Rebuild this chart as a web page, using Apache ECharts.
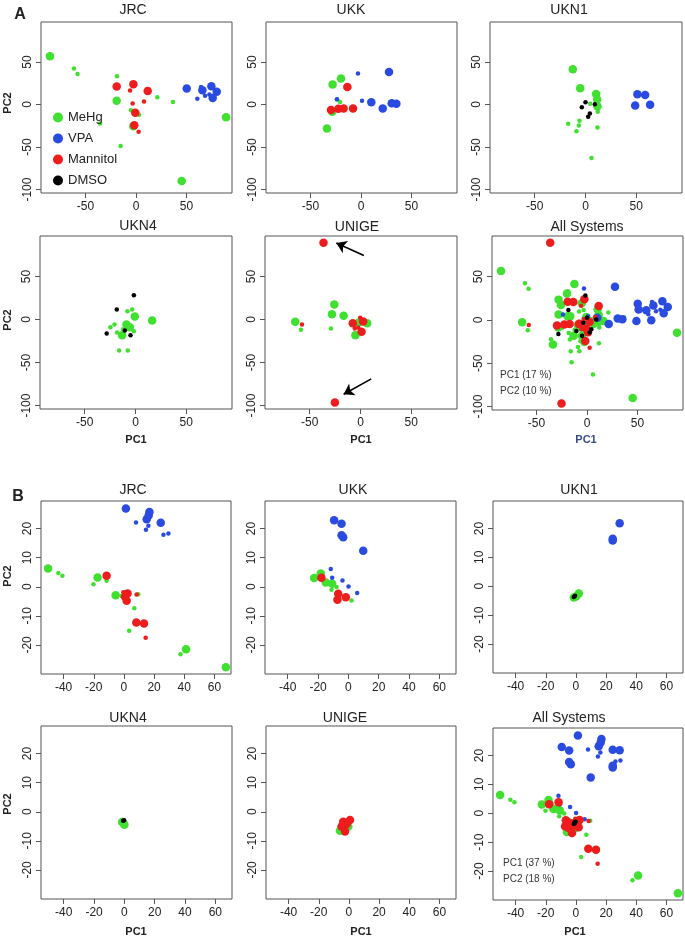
<!DOCTYPE html>
<html><head><meta charset="utf-8">
<script src="https://cdn.jsdelivr.net/npm/echarts@6/dist/echarts.min.js"></script>
<style>html,body{margin:0;padding:0;background:#fff}#c{width:685px;height:938px}</style>
</head><body><div id="c"></div>
<script>
// ---------- tick labels ----------
const ticksAx = [-50, 0, 50];
const ticksAy = [-100, -50, 0, 50];
const ticksBx = [-40, -20, 0, 20, 40, 60];
const ticksBy = [-20, -10, 0, 10, 20];
const panelNames = ['JRC', 'UKK', 'UKN1', 'UKN4', 'UNIGE', 'All Systems'];
const groups = ['MeHg', 'VPA', 'Mannitol', 'DMSO'];
const varA = ['PC1 (17 %)', 'PC2 (10 %)'];
const varB = ['PC1 (37 %)', 'PC2 (18 %)'];
// points: [PC1, PC2, highDose(1)/lowDose(0)]
// ---------- Panel A ----------
const aJRC_MeHg = [[-85.1,56.7,1],[-19.1,4.3,1],[-2.6,-25.4,1],[45.2,-90,1],[89.1,-14.9,1],[-61.4,42.3,0],[-57.8,36,0],[-18.8,33.3,0],[21.1,8.6,0],[36.6,3.1,0],[-35.6,-22.3,0],[-15.2,-48.9,0],[-5,-6.7,0],[3,-12.1,0]];
const aJRC_VPA = [[50.2,18.8,1],[65.7,16.8,1],[74.6,21.5,1],[79.9,14.9,1],[75.9,7.8,1],[60.7,6.7,0],[64.4,20.7,0],[72.6,11.7,0],[68.3,10.2,0]];
const aJRC_Mannitol = [[-19.1,21.1,1],[-2.6,23.9,1],[11.6,16,1],[-0.7,-9.8,1],[-1.7,-24.3,1],[-5.9,16.4,0],[-3.3,1.2,0],[7.9,3.5,0],[2.6,-32.1,0]];
const aJRC_DMSO = [];
const aUKK_MeHg = [[-28.1,23.5,1],[-19.8,30.5,1],[-33.7,-28.2,1],[-28.4,-8.6,1],[-23.8,5.9,0],[-20.8,3.1,0],[-19.8,-5.9,0],[-11.9,20,0]];
const aUKK_VPA = [[27.7,38.3,1],[10.2,2.7,1],[21.5,-4.7,1],[30.4,1.6,1],[35,0.8,1],[-3,36.4,0],[1,4.3,0],[-23.8,6.3,0]];
const aUKK_Mannitol = [[-29.7,-6.3,1],[-22.4,-5.1,1],[-17.2,-4.7,1],[-7.9,-4.7,1],[-13.5,20.7,1]];
const aUKK_DMSO = [];
const aUKN1_MeHg = [[-12.5,41.5,1],[-5.2,19.2,1],[10.5,12.5,1],[11.5,5.9,1],[11.8,-2,1],[-17,-22.7,0],[-5.9,-19.2,0],[-6.6,-24.6,0],[-8.9,-31.3,0],[11.8,-27,0],[5.9,-63,0],[4.6,0.8,0],[12.1,-8.6,0]];
const aUKN1_VPA = [[51.1,12.1,1],[58.7,11.3,1],[48.9,-1.2,1],[63.6,-0.4,1]];
const aUKN1_Mannitol = [];
const aUKN1_DMSO = [[-3.6,-3.1,0],[0,2.7,0],[9.2,0.4,0],[4.3,-10.6,0],[2.6,-14.5,0]];
const aUKN4_MeHg = [[-0.7,3.5,1],[16.4,-1.2,1],[-8.9,-5.8,1],[-5.6,-8.9,1],[-13.2,-18.2,1],[-7.9,9.7,0],[-3.3,11.6,0],[-24.7,-8.9,0],[-20.7,-5.8,0],[-18.1,-15.1,0],[-1.6,-13.6,0],[-16.1,-36,0],[-7.6,-36,0],[-12.2,-11.2,0]];
const aUKN4_VPA = [];
const aUKN4_Mannitol = [];
const aUKN4_DMSO = [[-1.6,28.3,0],[-18.4,11.6,0],[-28.3,-16.3,0],[-10.5,-12.8,0],[-4.9,-18.2,0]];
const aUNIGE_MeHg = [[-64.2,-2.7,1],[-25.8,17.4,1],[-28.1,6.2,1],[-16.6,4.3,1],[6.6,-4.3,1],[-5,-18.2,1],[-1.7,-3.5,1],[-58.6,-12,0],[-29.1,-10.5,0]];
const aUNIGE_VPA = [];
const aUNIGE_Mannitol = [[-36.4,89.1,1],[-25.2,-96.5,1],[-7.6,-4.3,1],[2.6,-2.3,1],[1,-14.3,1],[-57.6,-5.8,0],[-0.3,1.9,0],[-5.6,-10.5,0],[-2.3,-9.3,0]];
const aUNIGE_DMSO = [];
const aUNIGE_arrows = [[[3.3,74.4],[-23.8,88.8]],[[10.6,-69],[-16.6,-86.8]]];
// ---------- Panel B ----------
const bJRC_MeHg = [[-50.3,6.3,1],[-17.5,3.2,1],[-5.5,-2.9,1],[41.2,-21.5,1],[67.6,-27.7,1],[-43.5,4.7,0],[-40.8,3.8,0],[-20.2,0.9,0],[-11.5,2.1,0],[-1.6,-3.2,0],[9.5,-2.6,0],[6.9,-7.4,0],[3.5,-15.1,0],[37.5,-23.2,0]];
const bJRC_VPA = [[1.3,26.9,1],[16.9,25.7,1],[15.1,23.2,1],[16.4,24.5,1],[24.4,22,1],[8,22.1,0],[16.2,21,0],[14.6,19.6,0],[26.2,17.9,0],[29.5,18.3,0]];
const bJRC_Mannitol = [[-11.5,3.8,1],[2.4,-2.3,1],[1.8,-4.8,1],[0.7,-3.4,1],[8.2,-12.3,1],[13.3,-12.6,1],[-0.4,-1.9,0],[8.4,-2.7,0],[14.4,-17.5,0]];
const bJRC_DMSO = [];
const bUKK_MeHg = [[-22.6,3,1],[-18.2,4.6,1],[-14.9,1.5,1],[-10.7,1,1],[-11.1,-1,0],[-7.8,-0.1,0],[2.1,-4.7,0]];
const bUKK_VPA = [[-9.4,22.9,1],[-4.5,21.7,1],[-4.5,17.7,1],[-3.4,17,1],[9.8,12.4,1],[-11.6,6.1,0],[-10.7,3.1,0],[-3.9,2.2,0],[0.1,0.1,0],[5.8,-2.1,0]];
const bUKK_Mannitol = [[-17.8,3.1,1],[-6.7,-2.4,1],[-7.2,-4.5,1],[-1.7,-3.6,1]];
const bUKK_DMSO = [];
const bUKN1_MeHg = [[1.9,-2.5,1],[0.1,-3.5,1],[-1.4,-3.9,1]];
const bUKN1_VPA = [[29,21.8,1],[24.4,16.4,1],[24.4,15.8,1]];
const bUKN1_Mannitol = [];
const bUKN1_DMSO = [[-1.4,-3.7,0],[-0.6,-3.3,0]];
const bUKN4_MeHg = [[-0.4,-4,1],[-1.5,-3.5,1],[0,-4.5,1]];
const bUKN4_VPA = [];
const bUKN4_Mannitol = [];
const bUKN4_DMSO = [[-0.9,-3.1,0],[-0.2,-2.9,0]];
const bUNIGE_MeHg = [[-6,-6.5,1],[-0.4,-5.1,1],[-3,-5.5,0]];
const bUNIGE_VPA = [];
const bUNIGE_Mannitol = [[-3.8,-3.4,1],[0.7,-2.8,1],[-1.5,-4.2,1],[-2.6,-6.8,1],[-4.9,-5.1,1],[-0.5,-3.8,0]];
const bUNIGE_DMSO = [];

// ---------- assemble ----------
const A = [
  {MeHg:aJRC_MeHg, VPA:aJRC_VPA, Mannitol:aJRC_Mannitol, DMSO:aJRC_DMSO},
  {MeHg:aUKK_MeHg, VPA:aUKK_VPA, Mannitol:aUKK_Mannitol, DMSO:aUKK_DMSO},
  {MeHg:aUKN1_MeHg, VPA:aUKN1_VPA, Mannitol:aUKN1_Mannitol, DMSO:aUKN1_DMSO},
  {MeHg:aUKN4_MeHg, VPA:aUKN4_VPA, Mannitol:aUKN4_Mannitol, DMSO:aUKN4_DMSO},
  {MeHg:aUNIGE_MeHg, VPA:aUNIGE_VPA, Mannitol:aUNIGE_Mannitol, DMSO:aUNIGE_DMSO}
];
const B = [
  {MeHg:bJRC_MeHg, VPA:bJRC_VPA, Mannitol:bJRC_Mannitol, DMSO:bJRC_DMSO},
  {MeHg:bUKK_MeHg, VPA:bUKK_VPA, Mannitol:bUKK_Mannitol, DMSO:bUKK_DMSO},
  {MeHg:bUKN1_MeHg, VPA:bUKN1_VPA, Mannitol:bUKN1_Mannitol, DMSO:bUKN1_DMSO},
  {MeHg:bUKN4_MeHg, VPA:bUKN4_VPA, Mannitol:bUKN4_Mannitol, DMSO:bUKN4_DMSO},
  {MeHg:bUNIGE_MeHg, VPA:bUNIGE_VPA, Mannitol:bUNIGE_Mannitol, DMSO:bUNIGE_DMSO}
];
function union(list){ const o={}; groups.forEach(g=>{ o[g]=[].concat(...list.map(p=>p[g])); }); return o; }
A.push(union(A)); B.push(union(B));

const colors = {MeHg:'#3fe02f', VPA:'#2a4be0', Mannitol:'#ee1d1d', DMSO:'#000000'};
const FONT = 'Liberation Sans, Arial, Helvetica, sans-serif';
const textColor = '#222';

const gridsA = [
  {left:41, top:22, width:191, height:171},
  {left:266, top:22, width:191, height:171},
  {left:490, top:22, width:192, height:171},
  {left:40, top:236, width:192, height:173},
  {left:265, top:236, width:192, height:173},
  {left:492, top:236, width:191, height:174}
];
const gridsB = [
  {left:41, top:501, width:190, height:173},
  {left:265, top:501, width:191, height:173},
  {left:493, top:501, width:190, height:172},
  {left:41, top:726, width:191, height:173},
  {left:266, top:726, width:190, height:173},
  {left:493, top:728, width:190, height:172}
];
const titlePosA = [[133,9],[351,9],[569,9],[138,225],[357,226],[587,226]];
const titlePosB = [[133,489],[353,489],[579,489],[128,717],[345,717],[569,717]];

const grid=[], xAxis=[], yAxis=[], series=[], title=[];
function addPanel(gr, xr, yr, tx, ty, data, tpos, name, arrows){
  const gi = grid.length;
  grid.push(Object.assign({show:true, borderColor:'#555', borderWidth:1, backgroundColor:'transparent'}, gr));
  xAxis.push({gridIndex:gi, type:'value', min:xr[0], max:xr[1], position:'bottom',
    axisLine:{show:false, onZero:false}, splitLine:{show:false},
    axisTick:{show:true, customValues:tx, length:5, lineStyle:{color:'#555'}},
    axisLabel:{customValues:tx, fontSize:12, color:textColor, fontFamily:FONT, margin:8}});
  yAxis.push({gridIndex:gi, type:'value', min:yr[0], max:yr[1], position:'left',
    axisLine:{show:false, onZero:false}, splitLine:{show:false},
    axisTick:{show:true, customValues:ty, length:5, lineStyle:{color:'#555'}},
    axisLabel:{customValues:ty, fontSize:12, color:textColor, fontFamily:FONT, margin:7, rotate:90}});
  title.push({text:name, left:tpos[0], top:tpos[1]-6, textAlign:'center', padding:0,
    textStyle:{fontSize:14, fontWeight:'normal', color:textColor, fontFamily:FONT}});
  ['MeHg','VPA','Mannitol','DMSO'].forEach(g=>{
    const s = {name:g, type:'scatter', xAxisIndex:gi, yAxisIndex:gi, data:data[g],
      symbolSize: v => v[2] ? 8.5 : 4.5, itemStyle:{color:colors[g], opacity:1},
      emphasis:{disabled:true}, silent:true};
    if(arrows && g==='Mannitol'){
      s.markLine = {silent:true, symbol:['none','arrow'], symbolSize:10, label:{show:false},
        lineStyle:{color:'#000', width:1.6, type:'solid'}, itemStyle:{color:'#000'},
        emphasis:{disabled:true},
        data: arrows.map(a=>[{coord:a[0]},{coord:a[1]}])};
    }
    series.push(s);
  });
}
for(let i=0;i<6;i++) addPanel(gridsA[i], [-94,95], [-104,97], ticksAx, ticksAy, A[i], titlePosA[i], panelNames[i], i===4?aUNIGE_arrows:null);
for(let i=0;i<6;i++) addPanel(gridsB[i], [-55,71], [-30,29.5], ticksBx, ticksBy, B[i], titlePosB[i], panelNames[i], null);

function txt(t, x, y, opts){
  return {type:'text', x:x, y:y, rotation:(opts&&opts.rot)||0, silent:true,
    style:Object.assign({text:t, fill:textColor, font:'11px '+FONT, align:'center', verticalAlign:'middle'}, opts&&opts.style)};
}
const bold = {style:{font:'bold 11px '+FONT}};
const graphic = [
  txt('A', 20, 15, {style:{font:'bold 16px '+FONT}}),
  txt('B', 18, 497, {style:{font:'bold 16px '+FONT}}),
  txt('PC2', 8, 103, {rot:Math.PI/2, style:{font:'bold 11px '+FONT}}),
  txt('PC2', 8, 320, {rot:Math.PI/2, style:{font:'bold 11px '+FONT}}),
  txt('PC2', 8, 576, {rot:Math.PI/2, style:{font:'bold 11px '+FONT}}),
  txt('PC2', 8, 804, {rot:Math.PI/2, style:{font:'bold 11px '+FONT}}),
  txt('PC1', 136, 440, bold),
  txt('PC1', 361, 440, bold),
  txt('PC1', 586, 440, {style:{font:'bold 11px '+FONT, fill:'#3a4a8c'}}),
  txt('PC1', 136, 932, bold),
  txt('PC1', 361, 932, bold),
  txt('PC1', 575, 932, bold),
  txt(varA[0], 500, 375, {style:{font:'10px '+FONT, align:'left', fill:'#333'}}),
  txt(varA[1], 500, 391, {style:{font:'10px '+FONT, align:'left', fill:'#333'}}),
  txt(varB[0], 503, 863, {style:{font:'10px '+FONT, align:'left', fill:'#333'}}),
  txt(varB[1], 503, 879, {style:{font:'10px '+FONT, align:'left', fill:'#333'}})
];

const chart = echarts.init(document.getElementById('c'), null, {renderer:'canvas'});
chart.setOption({
  animation:false,
  backgroundColor:'#fff',
  title:title,
  legend:{data:groups, orient:'vertical', left:48, top:106, itemWidth:10, itemHeight:10, itemGap:8,
    icon:'circle', textStyle:{fontSize:13, color:textColor, fontFamily:FONT}, selectedMode:false},
  grid:grid, xAxis:xAxis, yAxis:yAxis, series:series, graphic:graphic
});
</script></body></html>
